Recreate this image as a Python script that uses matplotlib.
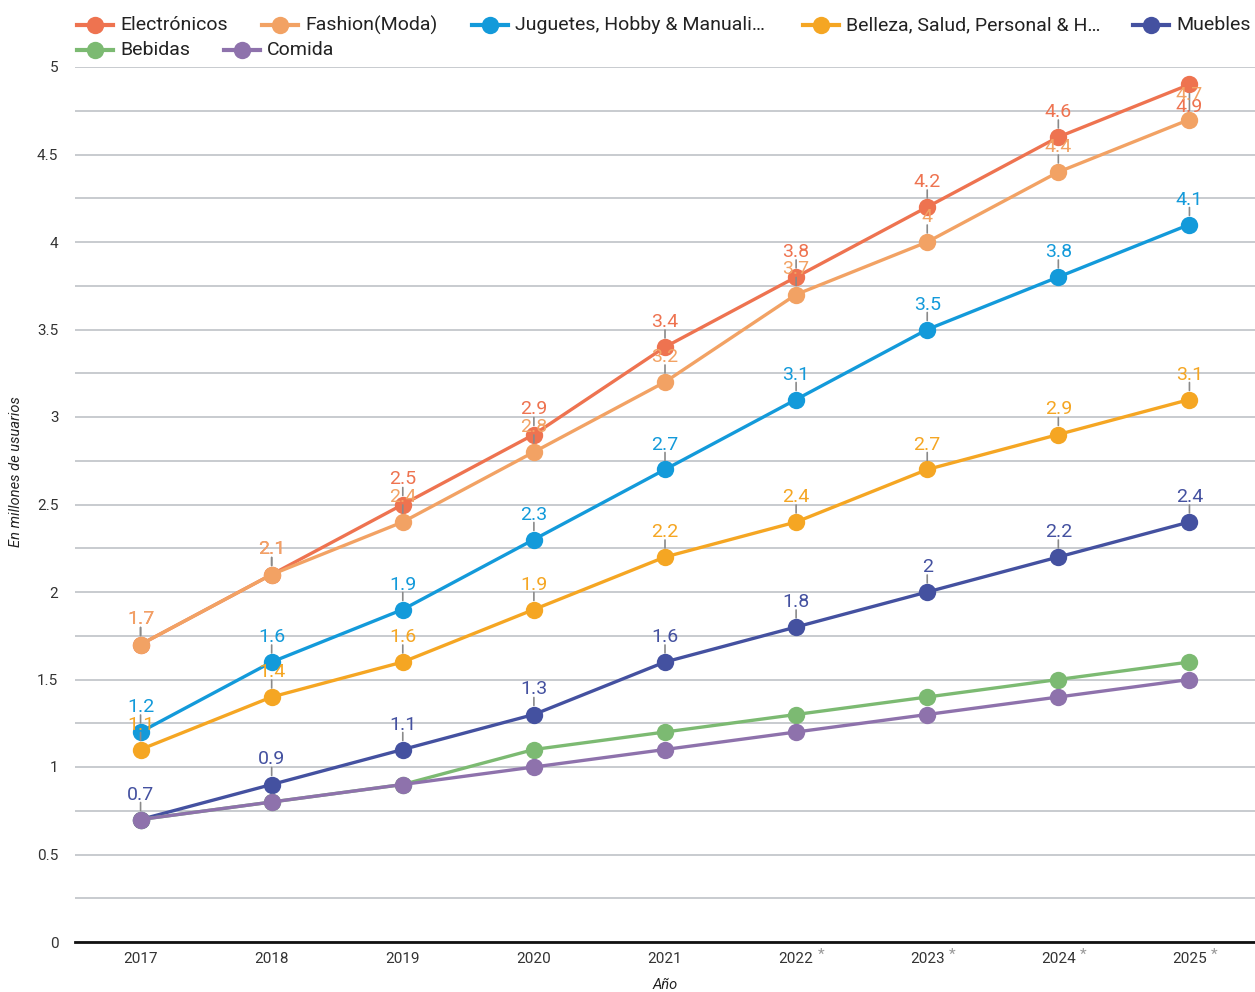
import matplotlib
matplotlib.use("Agg")
import matplotlib.pyplot as plt
from matplotlib.lines import Line2D

plt.rcParams['font.family'] = ['Roboto', 'DejaVu Sans']

# Data: millions of users per category
years = ['2017', '2018', '2019', '2020', '2021', '2022', '2023', '2024', '2025']
projected = [False, False, False, False, False, True, True, True, True]

series_names = ['Electrónicos', 'Fashion(Moda)', 'Juguetes, Hobby & Manuali…',
                'Belleza, Salud, Personal & H…', 'Muebles', 'Bebidas', 'Comida']
electronicos = [1.7, 2.1, 2.5, 2.9, 3.4, 3.8, 4.2, 4.6, 4.9]
fashion = [1.7, 2.1, 2.4, 2.8, 3.2, 3.7, 4.0, 4.4, 4.7]
juguetes = [1.2, 1.6, 1.9, 2.3, 2.7, 3.1, 3.5, 3.8, 4.1]
belleza = [1.1, 1.4, 1.6, 1.9, 2.2, 2.4, 2.7, 2.9, 3.1]
muebles = [0.7, 0.9, 1.1, 1.3, 1.6, 1.8, 2.0, 2.2, 2.4]
bebidas = [0.7, 0.8, 0.9, 1.1, 1.2, 1.3, 1.4, 1.5, 1.6]
comida = [0.7, 0.8, 0.9, 1.0, 1.1, 1.2, 1.3, 1.4, 1.5]

all_values = [electronicos, fashion, juguetes, belleza, muebles, bebidas, comida]
colors = ['#EE7350', '#F2A264', '#139ADA', '#F5A623', '#4451A0', '#7CBA72', '#8E72AC']
labelled = [True, True, True, True, True, False, False]

W, H = 1255, 992
fig = plt.figure(figsize=(W / 100, H / 100), dpi=100)
ax = fig.add_axes([75 / W, 50 / H, 1180 / W, 875 / H])

x = list(range(len(years)))

# lines, later series drawn on top
for i, (vals, col) in enumerate(zip(all_values, colors)):
    ax.plot(x, vals, color=col, lw=2.4, marker='o', markersize=12.5,
            markeredgewidth=0, zorder=3 + i * 0.1, clip_on=False)

# value labels with small leader ticks
for i, (vals, col, lab) in enumerate(zip(all_values, colors, labelled)):
    if not lab:
        continue
    for j, v in enumerate(vals):
        direction = 1
        # the top value would run past the plot, so put it under the point
        if v + 0.14 > 5:
            direction = -1
        ax.annotate('', xy=(j, v), xytext=(0, 17 * direction),
                    textcoords='offset pixels',
                    arrowprops=dict(arrowstyle='-', color='#8a8a8a', lw=1.2,
                                    shrinkA=0, shrinkB=6.5),
                    zorder=4, annotation_clip=False)
        ax.annotate(f'{v:g}', xy=(j, v), xytext=(0, 25 if direction > 0 else -23),
                    textcoords='offset pixels', ha='center', va='center',
                    fontsize=14, color=col, zorder=5 + i * 0.1,
                    annotation_clip=False)

ax.set_xlim(-0.5, len(years) - 0.5)
ax.set_ylim(0, 5)
ax.set_yticks([k * 0.25 for k in range(21)], minor=False)
ax.set_yticklabels([f'{k * 0.25:g}' if k % 2 == 0 else '' for k in range(21)])
ax.grid(axis='y', color='#c4c7cc', lw=1.3, zorder=0)
ax.set_axisbelow(True)
ax.set_xticks(x)
ax.set_xticklabels(years)
ax.tick_params(axis='y', length=0, pad=12, labelsize=11, labelcolor='#333333')
ax.tick_params(axis='x', length=0, pad=7, labelsize=11, labelcolor='#333333')
for s in ['top', 'right', 'left']:
    ax.spines[s].set_visible(False)
ax.spines['bottom'].set_color('#111111')
ax.spines['bottom'].set_linewidth(2)
ax.spines['bottom'].set_zorder(2)

# asterisk after projected years
for j, p in enumerate(projected):
    if p:
        ax.annotate('*', xy=(j, 0), xytext=(25, -13), textcoords='offset pixels',
                    ha='center', va='center', fontsize=11, color='#999999',
                    annotation_clip=False)

fig.text(16 / W, 1 - 472 / H, 'En millones de usuarios', rotation=90,
         ha='center', va='center', fontsize=10.5, style='italic', color='#222222')
fig.text(665 / W, 1 - 985 / H, 'Año', ha='center', va='center',
         fontsize=10.5, style='italic', color='#222222')

# legend laid out in two rows
legend_pos = [(95, 25), (280, 25), (490, 25), (821, 25), (1151, 25), (95, 50), (242, 50)]
for name, col, (lx, ly) in zip(series_names, colors, legend_pos):
    fy = 1 - ly / H
    fig.add_artist(Line2D([(lx - 18) / W, (lx + 18) / W], [fy, fy], color=col,
                          lw=3, transform=fig.transFigure))
    fig.add_artist(Line2D([lx / W], [fy], color=col, marker='o', markersize=12.5,
                          markeredgewidth=0, transform=fig.transFigure))
    fig.text((lx + 25) / W, fy, name, ha='left', va='center', fontsize=14,
             color='#222222')

fig.savefig('out.png', dpi=100)
